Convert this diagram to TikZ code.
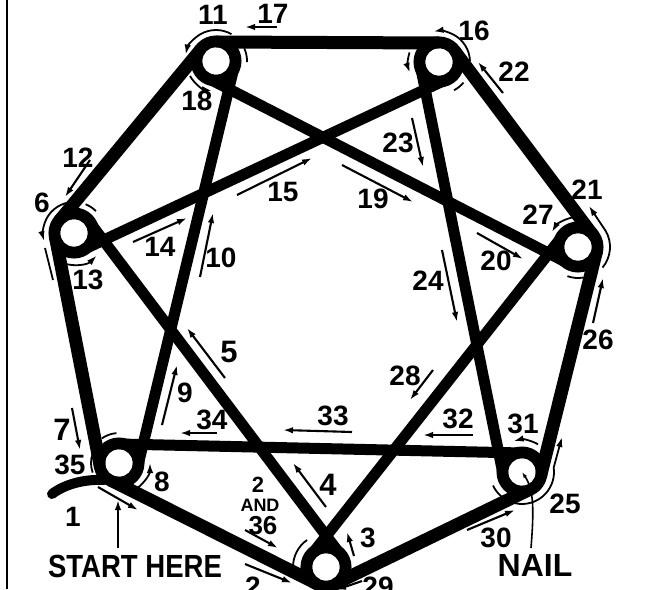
\documentclass[tikz,border=0pt]{standalone}
\usepackage{fontspec}
\setmainfont{Liberation Sans}
\usetikzlibrary{calc,arrows.meta}
\newcommand\thr[3][]{\draw[#1] ($(#2)!19pt!-90:(#3)$) -- ($(#3)!19pt!90:(#2)$);}
\newcommand\narc[5][]{\draw[thinarc,#1] (#2) ++(#3:#5) arc[start angle=#3,end angle=#4,radius=#5];}
\begin{document}
\begin{tikzpicture}[x=1pt,y=-1pt,
  thread/.style={line width=13pt},
  diag/.style={line width=11pt},
  thinarc/.style={line width=1.8pt},
  tip/.style={-{Latex[length=10pt,width=6.5pt]}},
  arr/.style={line width=2.1pt,tip},
  num/.style={font=\fontsize{28}{28}\selectfont\bfseries, inner sep=0pt},
  big/.style={font=\fontsize{32}{32}\selectfont\bfseries, inner sep=0pt},
]
\useasboundingbox (0,0) rectangle (645,589);
\clip (0,0) rectangle (645,589);
\fill[white] (0,0) rectangle (645,589);
% frame line at left
\draw[line width=2.5pt] (7,0) -- (7,589);
% nails
\coordinate (n11) at (216,61);
\coordinate (n16) at (439,62);
\coordinate (n6) at (74,233);
\coordinate (n21) at (578,247);
\coordinate (nE) at (119,463);
\coordinate (n25) at (522,472);
\coordinate (n3) at (326,567);
% thread
\thr[thread]{nE}{n3}
\thr[diag]{n3}{n6}
\thr[thread]{n6}{nE}
\thr[diag]{nE}{n11}
\thr[thread]{n11}{n6}
\thr[diag]{n6}{n16}
\thr[thread]{n16}{n11}
\thr[diag]{n11}{n21}
\thr[thread]{n21}{n16}
\thr[diag]{n16}{n25}
\thr[thread]{n25}{n21}
\thr[diag]{n21}{n3}
\thr[thread]{n3}{n25}
\thr[diag]{n25}{nE}
\foreach \n in {n11,n16,n6,n21,nE,n25,n3}{
  \draw[line width=12pt] (\n) circle[radius=19.5];
  \fill[white] (\n) circle[radius=13.5];
}
% start of thread
\coordinate (s0) at (52,494);
\coordinate (s1) at (104,480);
\draw[line width=10pt,line cap=round] (s0) .. controls (65,484) and (85,479) .. (s1);
% arcs round the nails
\narc[tip]{n11}{-60}{-168}{31}
\narc{n11}{-24}{2}{31}
\narc[tip]{n11}{150}{98}{30}
\narc[tip]{n16}{-2}{-100}{31}
\narc{n16}{40}{62}{32}
\narc[tip]{n16}{198}{160}{31}
\narc[tip]{n6}{-100}{-195}{31}
\coordinate (a6a) at (45,248);
\coordinate (a6b) at (53,280);
\draw[thinarc] (a6a) -- (a6b);
\narc{n6}{-68}{-45}{31}
\narc[tip]{n6}{110}{45}{32}
\coordinate (a21) at (589,206);
\draw[thinarc,tip] (n21) ++(40:32) arc[start angle=40,end angle=-30,radius=32] -- (a21);
\narc[tip]{n21}{-100}{-150}{30}
\narc{n21}{80}{110}{31}
\coordinate (a25) at (562,437);
\draw[thinarc,tip] (n25) ++(103:32) arc[start angle=103,end angle=-8,radius=32] -- (a25);
\narc[tip]{n25}{-60}{-105}{32}
\narc{n25}{125}{155}{32}
\narc{n3}{180}{235}{33}
\narc{nE}{160}{200}{28}
\narc{nE}{-125}{-95}{30}
\narc[tip]{nE}{56}{0}{31}
% NAIL pointer
\coordinate (p0) at (531,548);
\draw[line width=1.6pt,-{Latex[length=6pt,width=4pt]}] (p0) .. controls (534,510) and (534,490) .. (n25);
% straight arrows
\foreach \a/\b/\c/\d in {
  277/27/245/27, 90/160/65/197, 133/242/187/218, 200/277/213/213,
  237/195/312/158, 503/93/478/62, 412/118/423/167, 342/165/413/202,
  477/233/523/259, 442/250/457/322, 593/323/603/278, 433/370/410/400,
  473/435/423/435, 352/432/283/430, 217/433/180/433, 467/530/515/510,
  245/530/278/548, 326/507/293/463, 225/378/187/328, 162/425/177/365,
  72/408/80/450, 98/487/138/510, 354/556/347/532, 362/581/336/590,
  245/564/292/583}{
  \draw[arr] (\a,\b) -- (\c,\d);
}
\coordinate (st0) at (118,548);
\coordinate (st1) at (118,500);
\draw[line width=2.6pt,tip] (st0) -- (st1);
% labels
\node[num] (l1) at (73,517) {1};
\node[num,font=\fontsize{22}{22}\selectfont\bfseries] (l2) at (258,485) {2};
\node[font=\fontsize{18}{18}\selectfont\bfseries,inner sep=0pt] (land) at (260,505) {AND};
\node[num,font=\fontsize{26}{26}\selectfont\bfseries] (l36) at (263,526) {36};
\node[num] (l2b) at (253,587) {2};
\node[num] (l29) at (378,587) {29};
\node[num] (l3) at (368,538) {3};
\node[num,font=\fontsize{31}{31}\selectfont\bfseries] (l4) at (328,485) {4};
\node[num,font=\fontsize{31}{31}\selectfont\bfseries] (l5) at (229,352) {5};
\node[num] (l6) at (42,203) {6};
\node[num,font=\fontsize{31}{31}\selectfont\bfseries] (l7) at (62,430) {7};
\node[num] (l8) at (162,482) {8};
\node[num] (l9) at (185,393) {9};
\node[num] (l10) at (221,258) {10};
\node[num] (l11) at (213,15) {11};
\node[num] (l12) at (78,158) {12};
\node[num] (l13) at (88,280) {13};
\node[num] (l14) at (160,247) {14};
\node[num] (l15) at (283,192) {15};
\node[num] (l16) at (474,31) {16};
\node[num] (l17) at (273,14) {17};
\node[num] (l18) at (197,101) {18};
\node[num] (l19) at (373,199) {19};
\node[num] (l20) at (496,261) {20};
\node[num] (l21) at (587,190) {21};
\node[num] (l22) at (514,72) {22};
\node[num] (l23) at (398,143) {23};
\node[num] (l24) at (428,281) {24};
\node[num] (l25) at (565,504) {25};
\node[num] (l26) at (598,340) {26};
\node[num] (l27) at (538,215) {27};
\node[num] (l28) at (405,376) {28};
\node[num] (l30) at (496,538) {30};
\node[num] (l31) at (523,424) {31};
\node[num] (l32) at (458,419) {32};
\node[num] (l33) at (333,416) {33};
\node[num] (l34) at (212,420) {34};
\node[num] (l35) at (70,465) {35};
\node[big] (lstart) at (135,566) {\scalebox{0.86}[1]{START HERE}};
\node[big] (lnail) at (535,565) {NAIL};
\end{tikzpicture}
\end{document}
